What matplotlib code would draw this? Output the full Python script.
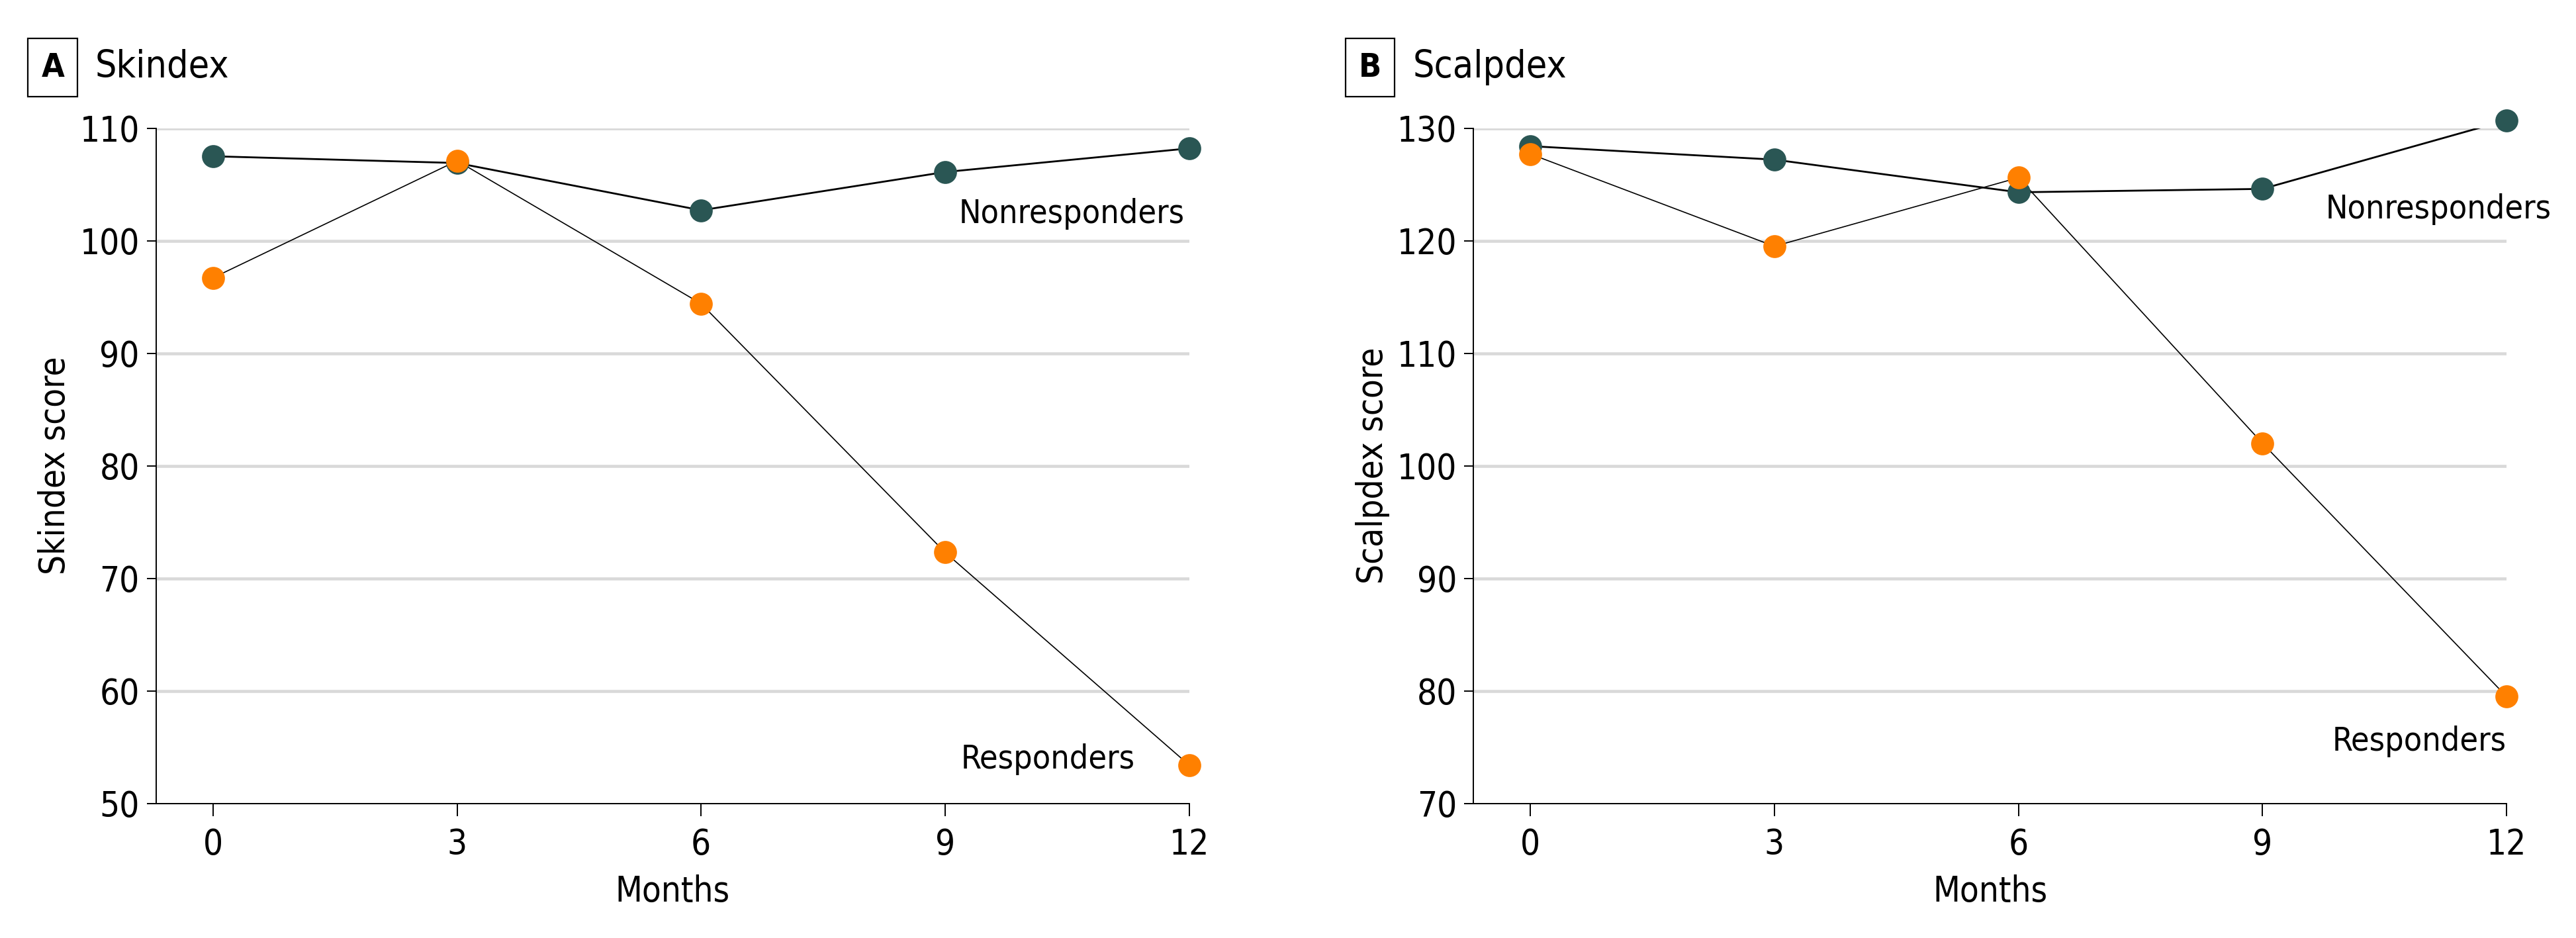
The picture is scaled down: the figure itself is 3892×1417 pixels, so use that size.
import matplotlib
matplotlib.use("Agg")
import matplotlib.pyplot as plt

# values (mean scores by month)
months = [0, 3, 6, 9, 12]
skindex_non = [107.5, 106.9, 102.7, 106.1, 108.2]
skindex_resp = [96.7, 107.1, 94.4, 72.3, 53.4]
scalpdex_non = [128.4, 127.2, 124.3, 124.6, 130.7]
scalpdex_resp = [127.7, 119.5, 125.6, 102.0, 79.5]

plt.rcParams['font.family'] = ['DejaVu Sans']
plt.rcParams['font.stretch'] = 'condensed'

teal = '#2a5654'
orange = '#ff8000'

fig = plt.figure(figsize=(38.92, 14.17), dpi=100)
axA = fig.add_axes([0.0606, 0.1436, 0.401, 0.7198])
axB = fig.add_axes([0.572, 0.1436, 0.401, 0.7198])


def draw_panel(ax, non, resp, ylim, yticks, ylabel, letter, title, non_pos, resp_pos):
    for y in yticks[1:]:
        ax.axhline(y, color='#d9d9d9', lw=3.3, zorder=0)
    ax.plot(months, non, color='black', lw=2.0, zorder=2)
    ax.plot(months, resp, color='black', lw=1.2, zorder=2)
    ax.plot(months, non, 'o', color=teal, ms=25, mec='none', zorder=3, clip_on=False)
    ax.plot(months, resp, 'o', color=orange, ms=25, mec='none', zorder=4, clip_on=False)

    ax.set_xlim(-0.7, 12)
    ax.set_ylim(*ylim)
    ax.set_xticks(months)
    ax.set_yticks(yticks)
    for s in ['top', 'right']:
        ax.spines[s].set_visible(False)
    for s in ['left', 'bottom']:
        ax.spines[s].set_linewidth(1.4)
    ax.tick_params(axis='y', length=10, width=1.4, labelsize=38, pad=8)
    ax.tick_params(axis='x', length=14, width=1.4, labelsize=38, pad=12)
    ax.set_ylabel(ylabel, fontsize=38, labelpad=8)
    ax.set_xlabel('Months', fontsize=38, labelpad=14)

    ax.text(non_pos[0], non_pos[1], 'Nonresponders', fontsize=36, va='center', ha='left')
    ax.text(resp_pos[0], resp_pos[1], 'Responders', fontsize=36, va='center', ha='left')

    ax.text(-0.10, 1.09, letter, transform=ax.transAxes, fontsize=36, fontweight='bold',
            ha='center', va='center',
            bbox=dict(boxstyle='square,pad=0.4', fc='white', ec='black', lw=1.6))
    ax.text(-0.059, 1.09, title, transform=ax.transAxes, fontsize=41, ha='left', va='center')


draw_panel(axA, skindex_non, skindex_resp, (50, 110), [50, 60, 70, 80, 90, 100, 110],
           'Skindex score', 'A', 'Skindex', (9.17, 102.4), (9.19, 53.9))
draw_panel(axB, scalpdex_non, scalpdex_resp, (70, 130), [70, 80, 90, 100, 110, 120, 130],
           'Scalpdex score', 'B', 'Scalpdex', (9.78, 122.8), (9.86, 75.5))

fig.savefig('out.png', dpi=100)
